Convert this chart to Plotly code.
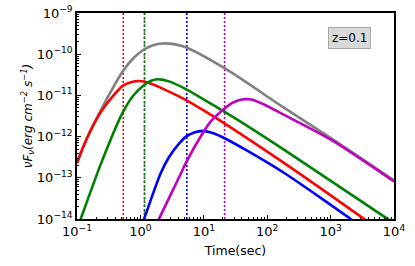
import plotly.graph_objects as go

# log10(time [s]) and log10(flux)
red_logt = [-1.0, -0.9, -0.8, -0.7, -0.6, -0.45, -0.28, -0.15, -0.016, 0.13, 0.27, 0.616, 0.93, 1.196, 2.275, 3.51, 3.6]
red_logf = [-12.64, -12.24, -11.9, -11.6, -11.35, -11.05, -10.77, -10.68, -10.65, -10.69, -10.78, -11.03, -11.30, -11.55, -12.65, -13.98, -14.08]

green_logt = [-0.97, -0.937, -0.62, -0.29, -0.12, 0.063, 0.18, 0.3, 0.45, 0.695, 1.196, 1.56, 2.275, 3.88, 3.95]
green_logf = [-14.12, -13.98, -12.65, -11.45, -11.02, -10.74, -10.64, -10.61, -10.66, -10.83, -11.28, -11.62, -12.33, -13.98, -14.06]

gray_logt = [-1.0, -0.833, -0.664, -0.5, -0.28, -0.1, 0.063, 0.2, 0.354, 0.5, 0.695, 1.327, 2.275, 3.01, 4.0]
gray_logf = [-12.64, -12.0, -11.48, -11.0, -10.42, -10.08, -9.88, -9.78, -9.74, -9.75, -9.82, -10.34, -11.31, -12.04, -13.06]

blue_logt = [0.04, 0.063, 0.32, 0.45, 0.616, 0.72, 0.85, 0.984, 1.15, 1.327, 1.67, 2.275, 3.30, 3.36]
blue_logf = [-14.08, -13.98, -12.89, -12.5, -12.16, -12.0, -11.9, -11.86, -11.92, -12.04, -12.33, -12.89, -13.98, -14.05]

mag_logt = [0.27, 0.30, 0.616, 0.73, 0.97, 1.117, 1.327, 1.45, 1.60, 1.75, 1.95, 2.275, 3.01, 4.0]
mag_logf = [-14.1, -13.98, -12.97, -12.6, -11.95, -11.62, -11.32, -11.18, -11.10, -11.1, -11.22, -11.48, -12.08, -13.09]

# vertical dotted marker times (s)
vline_times = {"red": 0.537, "green": 1.16, "blue": 5.4, "#c000c0": 21.3}

x_tickvals = [0.1, 1, 10, 100, 1000, 10000]
x_ticktext = ["10<sup>\u22121</sup>", "10<sup>0</sup>", "10<sup>1</sup>", "10<sup>2</sup>", "10<sup>3</sup>", "10<sup>4</sup>"]
y_tickvals = [1e-14, 1e-13, 1e-12, 1e-11, 1e-10, 1e-9]
y_ticktext = ["10<sup>\u221214</sup>", "10<sup>\u221213</sup>", "10<sup>\u221212</sup>", "10<sup>\u221211</sup>", "10<sup>\u221210</sup>", "10<sup>\u22129</sup>"]

YMIN, YMAX = 1e-14, 1e-9

def p10(v):
    return [10 ** a for a in v]

fig = go.Figure()

# vertical dotted lines
fig.add_trace(go.Scatter(x=[vline_times["green"]] * 2, y=[YMIN, YMAX], mode="lines",
                         line=dict(color="gray", width=1.6, dash="dot"), showlegend=False))
for col, t in vline_times.items():
    fig.add_trace(go.Scatter(x=[t, t], y=[YMIN, YMAX], mode="lines",
                             line=dict(color=col, width=1.6, dash="2px,2px"), showlegend=False))

curves = [
    (gray_logt, gray_logf, "gray"),
    (red_logt, red_logf, "red"),
    (green_logt, green_logf, "green"),
    (blue_logt, blue_logf, "blue"),
    (mag_logt, mag_logf, "#c000c0"),
]
for lt, lf, col in curves:
    fig.add_trace(go.Scatter(x=p10(lt), y=p10(lf), mode="lines",
                             line=dict(color=col, width=2.6, shape="spline", smoothing=0.8),
                             showlegend=False))

minor_x = [m * 10 ** e for e in range(-1, 4) for m in range(2, 10)]
minor_y = [m * 10 ** e for e in range(-14, -9) for m in range(2, 10)]

fig.update_xaxes(type="log", range=[-1, 4], tickmode="array", tickvals=x_tickvals, ticktext=x_ticktext,
                 ticks="inside", ticklen=4, tickwidth=1, tickcolor="black",
                 minor=dict(tickmode="array", tickvals=minor_x, ticks="inside", ticklen=2, tickcolor="black", showgrid=False),
                 showline=True, linecolor="black", linewidth=1.6, mirror=True, showgrid=False, zeroline=False,
                 tickfont=dict(size=13, color="black"),
                 title=dict(text="Time(sec)", font=dict(size=12.5, color="black"), standoff=8))
fig.update_yaxes(type="log", range=[-14, -9], tickmode="array", tickvals=y_tickvals, ticktext=y_ticktext,
                 ticks="inside", ticklen=4, tickwidth=1, tickcolor="black",
                 minor=dict(tickmode="array", tickvals=minor_y, ticks="inside", ticklen=2, tickcolor="black", showgrid=False),
                 showline=True, linecolor="black", linewidth=1.6, mirror=True, showgrid=False, zeroline=False,
                 tickfont=dict(size=13, color="black"),
                 title=dict(text="<i>\u03bdF<sub>\u03bd</sub>(erg cm<sup>\u22122</sup> s<sup>\u22121</sup>)</i>",
                            font=dict(size=12, color="black"), standoff=2))

fig.add_annotation(xref="paper", yref="paper", x=0.861, y=0.879, xanchor="center", yanchor="middle",
                   text="z=0.1", showarrow=False,
                   font=dict(size=12, color="black", family="DejaVu Sans"),
                   bgcolor="#d9d9d9", bordercolor="#a8a8a8", borderwidth=1, borderpad=3)

fig.update_layout(width=415, height=266, margin=dict(l=77, r=21, t=13, b=47, autoexpand=False),
                  paper_bgcolor="white", plot_bgcolor="white",
                  font=dict(family="DejaVu Sans", color="black"), showlegend=False)

# remove the browser's default 8px body margin so the figure sits at the page origin
fig.write_html("out.html", config={"displayModeBar": False},
               post_script="document.body.style.margin='0';")
